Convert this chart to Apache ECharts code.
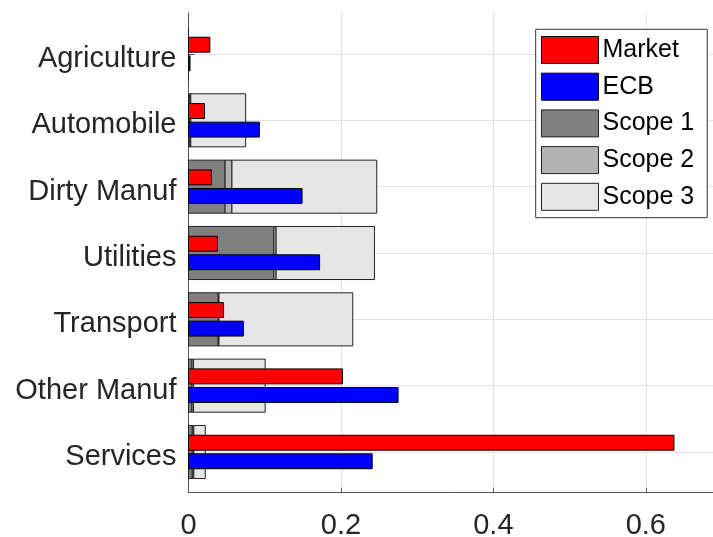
<!DOCTYPE html>
<html>
<head>
<meta charset="utf-8">
<script src="https://cdn.jsdelivr.net/npm/echarts@6/dist/echarts.min.js"></script>
<style>
  html, body { margin: 0; padding: 0; background: #fff; }
  #chart { width: 713px; height: 537px; }
</style>
</head>
<body>
<div id="chart"></div>
<script>
  // sectors, top to bottom
  var categories = ['Agriculture', 'Automobile', 'Dirty Manuf', 'Utilities', 'Transport', 'Other Manuf', 'Services'];
  var market = [0.028, 0.021, 0.030, 0.038, 0.046, 0.202, 0.637];
  var ecb    = [0.002, 0.093, 0.149, 0.172, 0.072, 0.275, 0.241];
  var scope1 = [0, 0.002, 0.048, 0.112, 0.039, 0.0046, 0.005];
  var scope2 = [0, 0.001, 0.009, 0.003, 0.001, 0.002, 0.002];
  var scope3 = [0, 0.072, 0.190, 0.129, 0.1755, 0.094, 0.015];
  var xTicks = [0, 0.2, 0.4, 0.6];

  var FONT = 'Liberation Sans';

  // [category index, start, end]
  function plain(arr) {
    return arr.map(function (v, i) { return [i, 0, v]; });
  }
  function stacked(arrs, k) {
    return arrs[k].map(function (v, i) {
      var s = 0;
      for (var j = 0; j < k; j++) s += arrs[j][i];
      return [i, s, s + v];
    });
  }
  var scopes = [scope1, scope2, scope3];

  // horizontal bar drawn through the axes, offset/height in band units
  function barRender(offset, hFrac) {
    return function (params, api) {
      var cat = api.value(0);
      var p0 = api.coord([api.value(1), cat]);
      var p1 = api.coord([api.value(2), cat]);
      var band = api.size([0, 1])[1];
      var h = band * hFrac;
      return {
        type: 'rect',
        shape: { x: p0[0], y: p0[1] + band * offset - h / 2, width: p1[0] - p0[0], height: h },
        style: api.style()
      };
    };
  }

  function barSeries(name, data, color, edge, offset, hFrac) {
    return {
      name: name,
      type: 'custom',
      xAxisIndex: 1,
      yAxisIndex: 1,
      renderItem: barRender(offset, hFrac),
      encode: { x: [1, 2], y: 0 },
      itemStyle: { color: color, borderColor: edge, borderWidth: 1 },
      data: data
    };
  }

  var chart = echarts.init(document.getElementById('chart'));
  chart.setOption({
    animation: false,
    backgroundColor: '#fff',
    grid: [
      { left: 188.5, width: 533.5, top: 13, bottom: 44.3, outerBoundsMode: 'none', containLabel: false },   // frame + x axis
      { left: 188.5, width: 533.5, top: 54, bottom: 85, outerBoundsMode: 'none', containLabel: false }      // category positions
    ],
    xAxis: [
      {
        gridIndex: 0, type: 'value', min: 0, max: 0.7, interval: 0.2,
        axisLine: { onZero: false, lineStyle: { color: '#555', width: 1 } },
        axisTick: { inside: true, length: 5, lineStyle: { color: '#555' } },
        splitLine: { show: true, lineStyle: { color: '#e3e3e3', width: 1 } },
        axisLabel: {
          fontSize: 29, fontFamily: FONT, color: '#262626', margin: 19,
          formatter: function (v) { return xTicks.indexOf(Math.round(v * 10) / 10) >= 0 ? String(Math.round(v * 10) / 10) : ''; }
        }
      },
      { gridIndex: 1, type: 'value', min: 0, max: 0.7, show: false }
    ],
    yAxis: [
      {
        gridIndex: 0, type: 'value', min: 0, max: 1,
        axisLine: { show: true, onZero: false, lineStyle: { color: '#555', width: 1 } },
        axisTick: { show: false }, axisLabel: { show: false }, splitLine: { show: false }
      },
      {
        gridIndex: 1, type: 'category', data: categories, inverse: true, boundaryGap: false,
        axisLine: { show: false },
        axisTick: { inside: true, length: 6, lineStyle: { color: '#555' } },
        splitLine: { show: true, lineStyle: { color: '#e3e3e3', width: 1 } },
        axisLabel: {
          fontSize: 29, fontFamily: FONT, color: '#262626', margin: 12,
          verticalAlign: 'top', lineHeight: 10
        }
      }
    ],
    legend: {
      orient: 'vertical',
      left: 535.7, top: 29.3,
      padding: [6.7, 13, 6.9, 5.3],
      itemWidth: 57, itemHeight: 27, itemGap: 8.7,
      icon: 'rect',
      backgroundColor: '#fff',
      borderColor: '#333', borderWidth: 1,
      itemStyle: { borderWidth: 1 },
      textStyle: { fontSize: 25, fontFamily: FONT, color: '#000', padding: [0, 0, 0, -1] },
      data: ['Market', 'ECB', 'Scope 1', 'Scope 2', 'Scope 3']
    },
    series: [
      barSeries('Scope 1', stacked(scopes, 0), '#808080', '#222', 0, 0.8),
      barSeries('Scope 2', stacked(scopes, 1), '#b3b3b3', '#222', 0, 0.8),
      barSeries('Scope 3', stacked(scopes, 2), '#e6e6e6', '#222', 0, 0.8),
      barSeries('Market', plain(market), '#ff0000', '#000', -0.14, 0.225),
      barSeries('ECB', plain(ecb), '#0000ff', '#000', 0.14, 0.225)
    ]
  });
</script>
</body>
</html>
